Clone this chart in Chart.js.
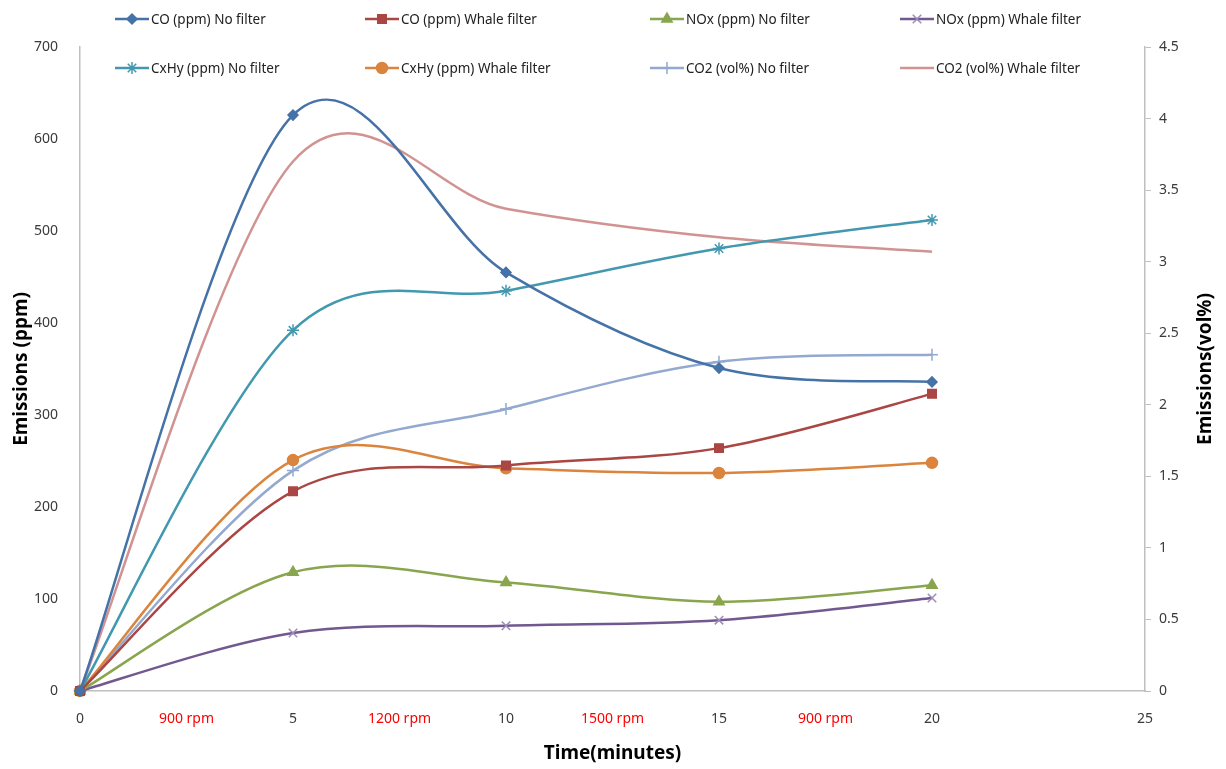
<!DOCTYPE html>
<html lang="en">
<head>
<meta charset="UTF-8">
<title>Emissions with and without whale filter</title>
<script src="https://cdn.jsdelivr.net/npm/chart.js"></script>
<style>
    body { margin: 0; background: #fff; font-family: 'Noto Sans', sans-serif; }
    #wrap { position: relative; width: 1226px; height: 769px; }
    #legend { position: absolute; left: 0; top: 0; width: 1226px; height: 90px; pointer-events: none; }
    .item { position: absolute; display: flex; align-items: center; font-size: 13.5px; color: #222; white-space: nowrap; }
    .item canvas { margin-right: 2px; }
</style>
</head>
<body>
<div id="wrap">
    <canvas id="emissionChart" width="1226" height="769"></canvas>
    <div id="legend"></div>
</div>

<script>
// time in minutes
const minutes = [0, 5, 10, 15, 20];
const rpmLabels = ['900 rpm', '1200 rpm', '1500 rpm', '900 rpm'];

// ppm values (left axis)
const coNoFilter = [0, 626, 455, 351, 336];
const coWhale = [0, 217, 245, 264, 323];
const noxNoFilter = [0, 129, 118, 97, 115];
const noxWhale = [0, 63, 71, 77, 101];
const cxhyNoFilter = [0, 392, 435, 481, 512];
const cxhyWhale = [0, 251, 242, 237, 248];

// vol% values (right axis)
const co2NoFilter = [0, 1.54, 1.97, 2.30, 2.35];
const co2Whale = [0, 3.70, 3.37, 3.17, 3.07];

const series = [
    { label: 'CO (ppm) No filter', data: coNoFilter, color: '#4572A7', style: 'rectRot', r: 5, axis: 'y' },
    { label: 'CO (ppm) Whale filter', data: coWhale, color: '#AA4643', style: 'rect', r: 6, axis: 'y' },
    { label: 'NOx (ppm) No filter', data: noxNoFilter, color: '#89A54E', style: 'triangle', r: 6, axis: 'y' },
    { label: 'NOx (ppm) Whale filter', data: noxWhale, color: '#71588F', style: 'crossRot', r: 6, axis: 'y', markerColor: '#9d8bb8' },
    { label: 'CxHy (ppm) No filter', data: cxhyNoFilter, color: '#4198AF', style: 'star', r: 6, axis: 'y' },
    { label: 'CxHy (ppm) Whale filter', data: cxhyWhale, color: '#DB843D', style: 'circle', r: 5.5, axis: 'y' },
    { label: 'CO2 (vol%) No filter', data: co2NoFilter, color: '#93A9CF', style: 'cross', r: 6, axis: 'y1' },
    { label: 'CO2 (vol%) Whale filter', data: co2Whale, color: '#D19392', style: false, r: 0, axis: 'y1' }
];

const datasets = series.map(s => ({
    label: s.label,
    data: minutes.map((m, i) => ({ x: m, y: s.data[i] })),
    yAxisID: s.axis,
    borderColor: s.color,
    backgroundColor: s.markerColor || s.color,
    pointBorderColor: s.markerColor || s.color,
    borderWidth: 2.5,
    pointStyle: s.style,
    pointRadius: s.r,
    pointBorderWidth: 1.5,
    tension: 0.4,
    clip: false
}));

const tickColor = '#3a3a3a';

// Excel style smoothing: uniform Catmull-Rom control points (1/6 of neighbour span)
const excelSmooth = {
    id: 'excelSmooth',
    beforeDatasetsDraw(chart) {
        chart.data.datasets.forEach((ds, di) => {
            const meta = chart.getDatasetMeta(di);
            const line = meta.dataset;
            if (!line || !line.updateControlPoints) return;
            line.updateControlPoints(chart.chartArea, 'x');
            const pts = meta.data;
            const n = pts.length;
            pts.forEach((p, i) => {
                const prev = pts[Math.max(i - 1, 0)];
                const next = pts[Math.min(i + 1, n - 1)];
                const dx = (next.x - prev.x) / 6;
                const dy = (next.y - prev.y) / 6;
                p.cp1x = p.x - dx; p.cp1y = p.y - dy;
                p.cp2x = p.x + dx; p.cp2y = p.y + dy;
            });
        });
    }
};

// right axis title reads bottom-to-top like the left one
const rightTitle = {
    id: 'rightTitle',
    afterDraw(chart) {
        const sc = chart.scales.y1;
        const ctx = chart.ctx;
        ctx.save();
        ctx.translate(sc.right - 20, (sc.top + sc.bottom) / 2);
        ctx.rotate(-Math.PI / 2);
        ctx.textAlign = 'center';
        ctx.textBaseline = 'middle';
        ctx.fillStyle = '#000';
        ctx.font = "bold 19px 'Noto Sans'";
        ctx.fillText('Emissions(vol%)', 0, 0);
        ctx.restore();
    }
};

new Chart(document.getElementById('emissionChart'), {
    type: 'line',
    data: { datasets: datasets },
    plugins: [excelSmooth, rightTitle],
    options: {
        responsive: false,
        animation: false,
        layout: { padding: { top: 47, left: 0, right: 0, bottom: 0 } },
        plugins: { legend: { display: false }, tooltip: { enabled: false } },
        scales: {
            x: {
                type: 'linear',
                min: 0,
                max: 25,
                afterFit: scale => { scale.height = 78; },
                grid: { display: false },
                border: { color: '#bfbfbf', width: 1.5 },
                ticks: {
                    stepSize: 2.5,
                    autoSkip: false,
                    maxRotation: 0,
                    padding: 12,
                    color: ctx => (ctx.tick.value % 5 ? '#ff0000' : tickColor),
                    font: ctx => (ctx.tick && ctx.tick.value % 5
                        ? { family: "'Liberation Sans Narrow', 'Noto Sans'", size: 14 }
                        : { family: "'Noto Sans'", size: 14 }),
                    callback: value => (value % 5 === 0 ? value : (rpmLabels[Math.floor(value / 5)] || ''))
                },
                title: {
                    display: true,
                    text: 'Time(minutes)',
                    color: '#000',
                    font: { family: "'Noto Sans'", size: 19, weight: 'bold' },
                    padding: { top: 4, bottom: 4 }
                }
            },
            y: {
                position: 'left',
                min: 0,
                max: 700,
                afterFit: scale => { scale.width = 80; },
                grid: { display: false },
                border: { color: '#bfbfbf', width: 1.5 },
                ticks: { stepSize: 100, padding: 14, color: tickColor, font: { family: "'Noto Sans'", size: 14 } },
                title: {
                    display: true,
                    text: 'Emissions (ppm)',
                    color: '#000',
                    font: { family: "'Noto Sans'", size: 19, weight: 'bold' },
                    padding: { top: 10, bottom: 4 }
                }
            },
            y1: {
                position: 'right',
                min: 0,
                max: 4.5,
                afterFit: scale => { scale.width = 81; },
                grid: { drawOnChartArea: false, drawTicks: true, tickLength: 6, color: '#bfbfbf' },
                border: { color: '#bfbfbf', width: 1.5 },
                ticks: {
                    stepSize: 0.5,
                    padding: 8,
                    color: tickColor,
                    font: { family: "'Noto Sans'", size: 14 },
                    callback: value => String(Math.round(value * 10) / 10)
                }
            }
        }
    }
});

// legend: 4 columns, 2 rows, line with marker like the original
const legendCols = [115, 365, 650, 900];
const legendRows = [19, 68];
const legend = document.getElementById('legend');
series.forEach((s, i) => {
    const item = document.createElement('div');
    item.className = 'item';
    item.style.left = legendCols[i % 4] + 'px';
    item.style.top = (legendRows[Math.floor(i / 4)] - 10) + 'px';
    item.style.height = '20px';
    const c = document.createElement('canvas');
    c.width = 34; c.height = 16;
    const g = c.getContext('2d');
    g.strokeStyle = s.color;
    g.lineWidth = 2.5;
    g.beginPath(); g.moveTo(0, 8); g.lineTo(34, 8); g.stroke();
    if (s.style) {
        g.fillStyle = s.markerColor || s.color;
        g.strokeStyle = s.markerColor || s.color;
        g.lineWidth = 1.5;
        Chart.helpers.drawPoint(g, { pointStyle: s.style, radius: s.r, rotation: 0, borderWidth: 1.5 }, 17, 8);
    }
    const t = document.createElement('span');
    t.textContent = s.label;
    item.appendChild(c);
    item.appendChild(t);
    legend.appendChild(item);
});
</script>
</body>
</html>
